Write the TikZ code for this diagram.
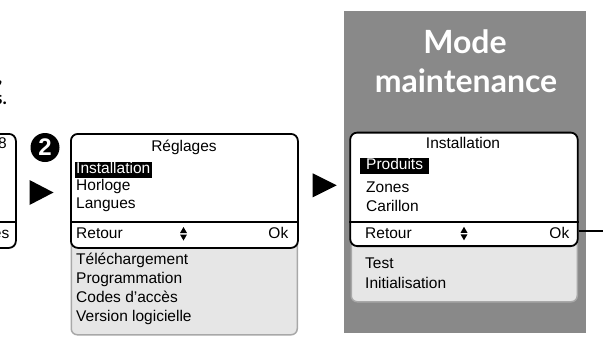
\documentclass[tikz,border=0pt]{standalone}
\usepackage{fontspec}
\setmainfont{Liberation Sans}
\newfontfamily\latofont{Lato}
\definecolor{panelgray}{RGB}{137,137,137}
\definecolor{subfill}{RGB}{230,230,230}
\definecolor{subedge}{RGB}{168,168,168}
\begin{document}
\begin{tikzpicture}[x=1pt,y=-1pt,
  ui/.style={font=\fontsize{15.5}{18}\selectfont, inner sep=0pt},
  screen/.style={draw=black, line width=1.8pt, rounded corners=7pt, fill=white, inner sep=0pt, anchor=north west},
  subbox/.style={draw=subedge, line width=1.5pt, rounded corners=6pt, fill=subfill, inner sep=0pt, anchor=north west},
  hl/.style={ui, fill=black, text=white, text height=10.5pt, text depth=2.5pt, inner ysep=1.5pt},
  playtri/.style={fill=black},
  heading/.style={font=\latofont\bfseries\fontsize{32}{38}\selectfont, text=white, inner sep=0pt, anchor=base},
  frag/.style={font=\latofont\bfseries\fontsize{18}{20}\selectfont, inner sep=0pt, anchor=base east}]
\useasboundingbox (0,0) rectangle (603,354);
\fill[white] (0,0) rectangle (603,354);
\begin{scope}
\clip (0,0) rectangle (603,354);
% fragments at top left
\node[frag] (f1) at (2.5,83) {,};
\node[frag] (f2) at (7,104) {s.};
% partial left screen
\node[screen, minimum width=120pt, minimum height=114pt] (prev) at (-105,133) {};
\draw[line width=1.8pt] (prev.west |- 0,222) -- (prev.east |- 0,222);
\node[ui, anchor=base east] (prevt) at (7,148) {8};
\node[ui, anchor=base east] (prevb) at (9.5,238) {es};
\end{scope}

% step number
\node[circle, fill=black, minimum size=29pt, inner sep=0pt] (num) at (45,147.5) {};
\node[font=\bfseries\fontsize{24}{24}\selectfont, text=white, inner sep=0pt] at (num.center) {2};
% play arrows
\fill[playtri] (29.5,180) -- (29.5,205) -- (53.5,192.5) -- cycle;
\fill[playtri] (312.7,173.3) -- (312.7,197.3) -- (336.7,185.3) -- cycle;

% Reglages screen
\node[subbox, minimum width=226pt, minimum height=104pt] (regsub) at (70.5,230) {};
\node[screen, minimum width=227pt, minimum height=114pt] (reg) at (70,133) {};
\draw[line width=1.8pt] (reg.west |- 0,222) -- (reg.east |- 0,222);
\node[ui, anchor=base] (regtitle) at (184,151) {Réglages};
\node[hl, inner xsep=1.5pt, anchor=base west] (reg1) at (74.5,173.5) {Installation};
\node[ui, anchor=base west] (reg2) at (76,190) {Horloge};
\node[ui, anchor=base west] (reg3) at (76,208) {Langues};
\node[ui, anchor=base west] (regret) at (76,238.5) {Retour};
\node[ui, anchor=base east] (regok) at (288.5,238.5) {Ok};
\fill (180,233) -- (187,233) -- (183.5,227) -- cycle;
\fill (180,234.5) -- (187,234.5) -- (183.5,240.5) -- cycle;
\node[ui, anchor=base west] (regs1) at (76,264.5) {Téléchargement};
\node[ui, anchor=base west] (regs2) at (76,283.5) {Programmation};
\node[ui, anchor=base west] (regs3) at (76,302.5) {Codes d'accès};
\node[ui, anchor=base west] (regs4) at (76,321.5) {Version logicielle};

% maintenance panel
\node[fill=panelgray, minimum width=242pt, minimum height=322pt, inner sep=0pt, anchor=north west] (panel) at (344,11) {};
\node[heading] (h1) at (465,53.3) {Mode};
\node[heading] (h2) at (466,92) {maintenance};

% Installation screen
\node[subbox, minimum width=226pt, minimum height=71pt] (instsub) at (350.5,230) {};
\node[screen, minimum width=227.5pt, minimum height=113.5pt] (inst) at (349.3,131.7) {};
\draw[line width=1.8pt] (inst.west |- 0,221.7) -- (inst.east |- 0,221.7);
\node[ui, anchor=base] (insttitle) at (463,148.3) {Installation};
\node[hl, inner xsep=6pt, anchor=base west] (inst1) at (360,169.5) {Produits};
\node[ui, anchor=base west] (inst2) at (366,192.7) {Zones};
\node[ui, anchor=base west] (inst3) at (366,211.7) {Carillon};
\node[ui, anchor=base west] (instret) at (365,238.5) {Retour};
\node[ui, anchor=base east] (instok) at (569.5,238.5) {Ok};
\fill (460.5,232.8) -- (467.5,232.8) -- (464,226.8) -- cycle;
\fill (460.5,234.3) -- (467.5,234.3) -- (464,240.3) -- cycle;
\node[ui, anchor=base west] (insts1) at (365,268.3) {Test};
\node[ui, anchor=base west] (insts2) at (365,288.3) {Initialisation};

% outgoing connector
\coordinate (out) at (603,231);
\draw[line width=1.5pt] (inst.east |- out) -- (out);
\end{tikzpicture}
\end{document}
